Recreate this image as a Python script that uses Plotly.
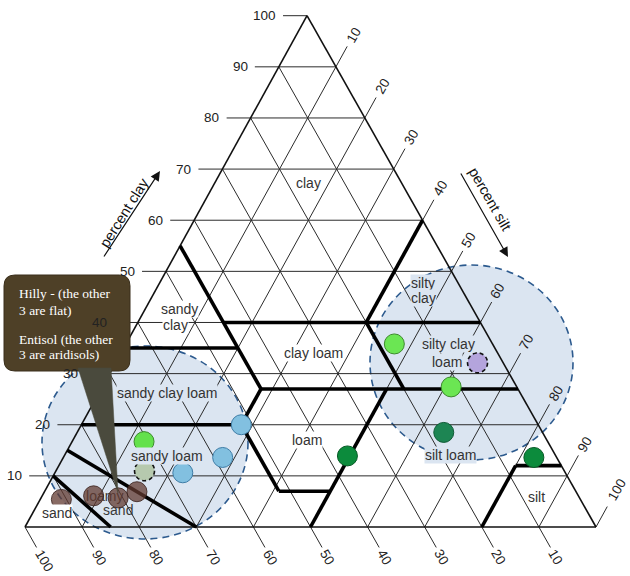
import plotly.graph_objects as go

# ---------------- data: sample points (percent clay, silt, sand) ----------------
brown_clay = [5.4, 6.1, 5.7, 6.9]
brown_silt = [3.7, 9.0, 13.5, 16.2]
brown_sand = [90.9, 84.9, 80.8, 76.9]

limeL_clay = [16.7]
limeL_silt = [12.6]
limeL_sand = [70.7]

sage_clay = [11.0]
sage_silt = [15.5]
sage_sand = [73.5]

blue_clay = [10.6, 13.6, 20.0]
blue_silt = [22.4, 27.9, 28.0]
blue_sand = [67.0, 58.5, 52.0]

limeR_clay = [35.8, 27.4]
limeR_silt = [47.0, 61.1]
limeR_sand = [17.2, 11.5]

purple_clay = [32.1]
purple_silt = [63.4]
purple_sand = [4.5]

teal_clay = [18.5]
teal_silt = [64.2]
teal_sand = [17.3]

green_clay = [13.9, 13.6]
green_silt = [49.6, 82.4]
green_sand = [36.5, 4.0]

# ---------------- data: axis ticks ----------------
tick_values = [10, 20, 30, 40, 50, 60, 70, 80, 90, 100]
grid_values = [10, 20, 30, 40, 50, 60, 70, 80, 90]

# ---------------- data: USDA class boundaries, (clay, silt) end points ----------------
bound_clay_a = [55, 35, 40, 60, 40, 27, 20, 20, 20, 7, 27, 0, 12, 10, 15]
bound_silt_a = [0, 0, 15, 40, 40, 28, 0, 28, 28, 41, 50, 80, 80, 0, 0]
bound_clay_b = [27, 35, 40, 40, 27, 27, 20, 27, 7, 7, 0, 12, 12, 0, 0]
bound_silt_b = [28, 20, 60, 40, 53, 73, 28, 28, 41, 50, 50, 80, 88, 15, 30]

# ---------------- data: texture class labels (clay, silt) ----------------
class_text = ["clay", "silty", "clay", "sandy", "clay", "silty clay", "loam", "clay loam",
              "sandy clay loam", "loam", "sandy loam", "silt loam", "sand", "silt"]
class_clay = [67.2, 47.8, 44.7, 42.6, 39.5, 35.8, 32.3, 34.1, 26.15, 17.0, 13.9, 14.1, 2.7, 5.9]
class_silt = [16.4, 46.15, 47.65, 6.1, 6.8, 56.45, 58.0, 33.65, 11.9, 41.05, 17.95, 67.5, 4.2, 86.7]
class_in_circle = [False, True, True, False, False, True, True, False, True, False, True, True, False, False]

loamy_text = ["loamy", "sand"]
loamy_clay = [5.8, 3.0]
loamy_silt = [11.1, 14.85]

# callout note
note_lines = ["Hilly - (the other", "3 are flat)", "Entisol (the other", "3 are aridisols)"]

# ---------------- geometry ----------------
W, H = 630, 576
X0, XS = 25.0, 5.71      # pixel of (silt=0,clay=0) and pixels per unit
Y0, YS = 527.0, 5.113
SHEAR = 0.0061


def tx(clay, silt):
    return silt + 0.5 * clay - SHEAR * clay


def pxd(px, py):
    return (px - X0) / XS, (Y0 - py) / YS


SANS = "Liberation Sans, Arial, Helvetica, sans-serif"
SERIF = "Liberation Serif, Times New Roman, serif"
CIRCLE_FILL = "#dbe5f1"

fig = go.Figure()
shapes = []
annotations = []

# shaded ellipses (behind everything)
for (a, b, c, d) in [(42, 346, 248, 539), (370, 265, 573, 460)]:
    x0, y1 = pxd(a, b)
    x1, y0 = pxd(c, d)
    shapes.append(dict(type="circle", xref="x", yref="y", x0=x0, x1=x1, y0=y0, y1=y1,
                       fillcolor=CIRCLE_FILL, line=dict(color="#2c5a8e", width=1.6, dash="7px,5px"),
                       layer="below"))


def add_segments(pairs, color, width):
    xs, ys = [], []
    for (c1, s1), (c2, s2) in pairs:
        xs += [tx(c1, s1), tx(c2, s2), None]
        ys += [c1, c2, None]
    fig.add_trace(go.Scatter(x=xs, y=ys, mode="lines", line=dict(color=color, width=width),
                             hoverinfo="skip", showlegend=False))


# grid
grid = []
for v in grid_values:
    grid.append(((v, 0), (v, 100 - v)))          # clay
    grid.append(((0, v), (100 - v, v)))          # silt
    grid.append(((0, 100 - v), (100 - v, 0)))    # sand
add_segments(grid, "#2b2b2b", 1)

# ticks
ticks = []
for v in tick_values:
    ticks.append(((v, 0), (v, -4.2)))
    ticks.append(((100 - v, v), (104 - v, v)))
    ticks.append(((0, 100 - v), (-4, 104 - v)))
add_segments(ticks, "#2b2b2b", 1)

# outline
add_segments([((0, 0), (0, 100)), ((0, 100), (100, 0)), ((100, 0), (0, 0))], "#111111", 1.6)

# class boundaries
bounds = [((ca, sa), (cb, sb)) for ca, sa, cb, sb in zip(bound_clay_a, bound_silt_a, bound_clay_b, bound_silt_b)]
add_segments(bounds, "#000000", 3.6)

# loamy sand labels (under the markers)
fig.add_trace(go.Scatter(x=[tx(c, s) for c, s in zip(loamy_clay, loamy_silt)], y=loamy_clay,
                         mode="text", text=loamy_text,
                         textfont=dict(family=SANS, size=14, color="#3a3a3a"),
                         hoverinfo="skip", showlegend=False))

# sample markers
groups = [
    (brown_clay, brown_silt, "rgba(98,58,48,0.75)", "rgba(60,35,30,0.85)", False),
    (limeL_clay, limeL_silt, "#63e14c", "#3c8a2c", False),
    (sage_clay, sage_silt, "#b6c9ae", "#b6c9ae", True),
    (blue_clay, blue_silt, "#82c0e0", "#3d7ca6", False),
    (limeR_clay, limeR_silt, "#6be653", "#3c8a2c", False),
    (purple_clay, purple_silt, "#b4a4dc", "#b4a4dc", True),
    (teal_clay, teal_silt, "#1d8553", "#0f5a35", False),
    (green_clay, green_silt, "#0c8b3c", "#075a26", False),
]
for cl, si, fill, edge, dashed in groups:
    xs = [tx(c, s) for c, s in zip(cl, si)]
    fig.add_trace(go.Scatter(x=xs, y=cl, mode="markers",
                             marker=dict(size=20, color=fill,
                                         line=dict(color=edge, width=0 if dashed else 1)),
                             hoverinfo="skip", showlegend=False))
    if dashed:
        for x, c in zip(xs, cl):
            shapes.append(dict(type="circle", xref="x", yref="y", xsizemode="pixel", ysizemode="pixel",
                               xanchor=x, yanchor=c, x0=-10, x1=10, y0=-10, y1=10,
                               line=dict(color="#111111", width=1.6, dash="4px,3px"), layer="above"))

# class labels
for t, c, s, inc in zip(class_text, class_clay, class_silt, class_in_circle):
    annotations.append(dict(x=tx(c, s), y=c, xref="x", yref="y", text=t, showarrow=False,
                            font=dict(family=SANS, size=14, color="#333333"),
                            bgcolor=CIRCLE_FILL if inc else "white", borderpad=0))

# tick labels
TICKFONT = dict(family=SANS, size=13.5, color="#222222")
for v in tick_values:
    # clay (left)
    annotations.append(dict(x=tx(v, -5.1), y=v, xref="x", yref="y", text=str(v), showarrow=False,
                            xanchor="right", font=TICKFONT))
    # silt (right)
    off = 7.4 if v == 100 else 6.2
    annotations.append(dict(x=tx(100 - v + off, v), y=100 - v + off, xref="x", yref="y", text=str(v),
                            showarrow=False, textangle=-60, font=TICKFONT))
    # sand (bottom)
    off = 6.6 if v == 100 else 5.9
    annotations.append(dict(x=tx(-off, 100 - v + off), y=-off, xref="x", yref="y", text=str(v),
                            showarrow=False, textangle=60, font=TICKFONT))

# axis titles with arrows
hx, hy = pxd(160, 171)
annotations.append(dict(x=hx, y=hy, xref="x", yref="y", text="", showarrow=True, ax=-57, ay=87,
                        arrowhead=2, arrowsize=1.6, arrowwidth=1.2, arrowcolor="#111111"))
x, y = pxd(124, 213)
annotations.append(dict(x=x, y=y, xref="x", yref="y", text="percent clay", showarrow=False, textangle=-58,
                        font=dict(family=SANS, size=14.5, color="#111111")))
hx, hy = pxd(508, 257)
annotations.append(dict(x=hx, y=hy, xref="x", yref="y", text="", showarrow=True, ax=-48, ay=-85,
                        arrowhead=2, arrowsize=1.6, arrowwidth=1.2, arrowcolor="#111111"))
x, y = pxd(490, 199)
annotations.append(dict(x=x, y=y, xref="x", yref="y", text="percent silt", showarrow=False, textangle=60,
                        font=dict(family=SANS, size=14.5, color="#111111")))

# callout box + pointer
def P(px, py):
    a, b = pxd(px, py)
    return f"{a:.3f},{b:.3f}"

L, T, R, B, r = 4, 275, 130, 371, 11
box = (f"M{P(L + r, T)} L{P(R - r, T)} Q{P(R, T)} {P(R, T + r)} L{P(R, B - r)} Q{P(R, B)} {P(R - r, B)} "
       f"L{P(L + r, B)} Q{P(L, B)} {P(L, B - r)} L{P(L, T + r)} Q{P(L, T)} {P(L + r, T)} Z")
shapes.append(dict(type="path", xref="x", yref="y", path=box, fillcolor="#4e4027",
                   line=dict(color="#3a2f1c", width=1), layer="above"))
wedge = f"M{P(78, 368)} L{P(111, 368)} L{P(118, 493)} Z"
shapes.append(dict(type="path", xref="x", yref="y", path=wedge, fillcolor="#4a4a3d",
                   line=dict(color="#4a4a3d", width=0.5), layer="above"))
for t, py in zip(note_lines, [293.5, 310, 339.5, 354.5]):
    x, y = pxd(16.5, py)
    annotations.append(dict(x=x, y=y, xref="x", yref="y", text=t, showarrow=False, xanchor="left",
                            font=dict(family=SERIF, size=13.5, color="white")))

fig.update_layout(
    width=W, height=H, margin=dict(l=0, r=0, t=0, b=0),
    paper_bgcolor="white", plot_bgcolor="white",
    xaxis=dict(range=[(0 - X0) / XS, (W - X0) / XS], visible=False, fixedrange=True),
    yaxis=dict(range=[(Y0 - H) / YS, Y0 / YS], visible=False, fixedrange=True),
    shapes=shapes, annotations=annotations, showlegend=False,
)

fig.write_html("out.html")
